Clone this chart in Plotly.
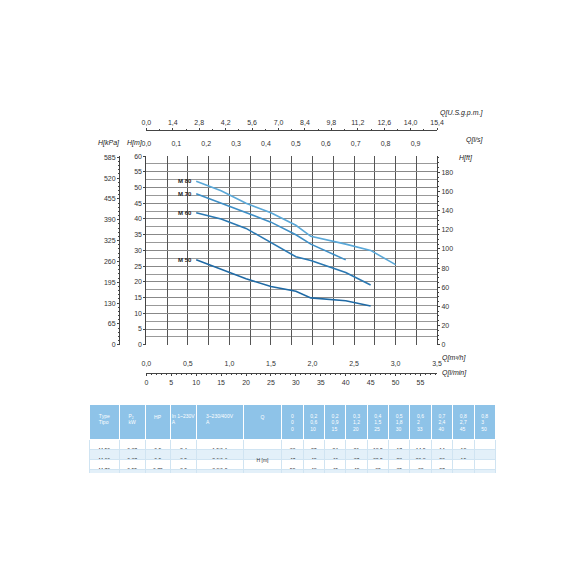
import plotly.graph_objects as go

# pump curves, flow in l/min, head in m
q_lmin = [10, 15, 20, 25, 30, 33, 40, 45, 50]
h_m50 = [27, 24, 21, 18.5, 17, 14.9, 14, 12.3]
h_m60 = [42, 40, 37, 32.5, 28, 26.8, 23, 19]
h_m70 = [48, 45, 42, 39, 35, 32, 27]
h_m80 = [52, 49, 45, 42, 38, 34.5, 32, 30, 25.5]
curves = [("M 80", h_m80, "#5aa8d8"), ("M 70", h_m70, "#3f8fc6"),
          ("M 60", h_m60, "#2a78b2"), ("M 50", h_m50, "#1f6aa5")]

# table data
types = ["M 50", "M 60", "M 70", "M 80"]
kw = ["0,37", "0,37", "0,55", "0,75"]
hp = ["0,5", "0,5", "0,75", "1"]
amp1 = ["2,4", "3,5", "3,9", "5,7"]
amp3 = ["1,9/1,1", "2,6/1,6", "3,3/1,9", "4,7/2,7"]
q_ls = ["0", "0,2", "0,2", "0,3", "0,4", "0,5", "0,6", "0,7", "0,8", "0,8"]
q_m3h = ["0", "0,6", "0,9", "1,2", "1,5", "1,8", "2", "2,4", "2,7", "3"]
q_lm = ["0", "10", "15", "20", "25", "30", "33", "40", "45", "50"]
tab_h = [
    ["33", "27", "24", "21", "18,5", "17", "14,9", "14", "12", ""],
    ["47", "42", "40", "37", "32,5", "28", "26,8", "23", "19", ""],
    ["52", "48", "45", "42", "39", "35", "32", "27", "", ""],
    ["55", "52", "49", "45", "42", "38", "34,5", "32", "30", "25"],
]

gpm_ticks = ["0,0", "1,4", "2,8", "4,2", "5,6", "7,0", "8,4", "9,8", "11,2", "12,6", "14,0", "15,4"]
ls_ticks = ["0,0", "0,1", "0,2", "0,3", "0,4", "0,5", "0,6", "0,7", "0,8", "0,9"]
m3h_ticks = ["0,0", "0,5", "1,0", "1,5", "2,0", "2,5", "3,0", "3,5"]

X0, X1, Y0, Y1 = 0.239, 0.76, 0.409, 0.744
XD, YD = [X0, X1], [Y0, Y1]
font = dict(family="Liberation Sans", size=7, color="#333")

fig = go.Figure()
for name, h, col in curves:
    fig.add_trace(go.Scatter(x=q_lmin[:len(h)], y=h, mode="lines", name=name,
                             line=dict(color=col, width=1.6), showlegend=False))
    fig.add_annotation(x=q_lmin[0], y=h[0], xref="x", yref="y", text="<b>" + name + "</b>",
                       showarrow=False, xanchor="right", xshift=-2, font=dict(size=6, color="#222"))

ax = dict(showline=True, linecolor="#444", ticks="outside", ticklen=2, tickfont=font,
          zeroline=False, showgrid=False)
fig.update_layout(
    width=570, height=570, margin=dict(l=0, r=0, t=0, b=0),
    plot_bgcolor="white", paper_bgcolor="white", font=font,
    xaxis=dict(domain=XD, range=[0, 58.333], anchor="y", tick0=0, dtick=25 / 6,
               showticklabels=False, ticks="", showgrid=True, gridcolor="#555", gridwidth=0.6,
               zeroline=False, showline=False),
    yaxis=dict(domain=YD, range=[0, 60], dtick=5, anchor="x", showgrid=True,
               gridcolor="#888", gridwidth=0.6, zeroline=False, showline=True, linecolor="#444",
               ticks="outside", ticklen=2, tickfont=font,
               minor=dict(dtick=2.5, showgrid=True, gridcolor="#999", gridwidth=0.5)),
    xaxis2=dict(ax, domain=XD, overlaying="x", range=[0, 58.333], anchor="free", position=0.358,
                dtick=5, side="bottom", minor=dict(dtick=1, ticks="outside", ticklen=1)),
    xaxis3=dict(ax, domain=XD, overlaying="x", range=[0, 3.5], anchor="free", position=0.385,
                tickvals=[i * 0.5 for i in range(8)], ticktext=m3h_ticks, side="bottom",
                showline=False, ticks=""),
    xaxis4=dict(ax, domain=XD, overlaying="x", range=[0, 0.9722], anchor="free", position=0.76,
                tickvals=[i * 0.1 for i in range(10)], ticktext=ls_ticks, side="top",
                showline=False, ticks=""),
    xaxis5=dict(ax, domain=XD, overlaying="x", range=[0, 15.4], anchor="free", position=0.79,
                tickvals=[i * 1.4 for i in range(12)], ticktext=gpm_ticks, side="top",
                minor=dict(dtick=0.7, ticks="outside", ticklen=1)),
    yaxis2=dict(ax, domain=YD, overlaying="y", range=[0, 588.4], anchor="free", position=0.19,
                tickvals=[i * 65 for i in range(10)], side="left",
                minor=dict(dtick=13, ticks="outside", ticklen=1)),
    yaxis3=dict(ax, domain=YD, overlaying="y", range=[0, 196.85], anchor="free", position=X1,
                side="right", dtick=20, minor=dict(dtick=5, ticks="outside", ticklen=1)),
)
# invisible traces so overlay axes render
for xa, ya in [("x2", "y"), ("x3", "y"), ("x4", "y"), ("x5", "y"), ("x", "y2"), ("x", "y3")]:
    fig.add_trace(go.Scatter(x=[None], y=[None], xaxis=xa, yaxis=ya, showlegend=False,
                             hoverinfo="skip"))

lab = dict(font=dict(family="Liberation Sans", size=7, color="#222"), showarrow=False,
           xref="paper", yref="paper")
for txt, x, y, xa in [("<i>Q[U.S.g.p.m.]</i>", 0.845, 0.82, "right"),
                      ("<i>Q[l/s]</i>", 0.845, 0.773, "right"),
                      ("<i>H[kPa]</i>", 0.148, 0.768, "left"),
                      ("<i>H[m]</i>", 0.2, 0.768, "left"),
                      ("<i>H[ft]</i>", 0.795, 0.74, "left"),
                      ("<i>Q[m³/h]</i>", 0.765, 0.385, "left"),
                      ("<i>Q[l/min]</i>", 0.765, 0.358, "left")]:
    fig.add_annotation(text=txt, x=x, y=y, xanchor=xa, yanchor="middle", **lab)

hdr_fill = "#8ec3e8"
header = ["Type<br>Tipo", "P₂<br>kW", "<br>HP", "In 1~230V<br>A", "3~230/400V<br>A", "<br>Q"] + \
         [f"{a}<br>{b}<br>{c}" for a, b, c in zip(q_ls, q_m3h, q_lm)]
cols = [types, kw, hp, amp1, amp3, ["", "H [m]", "", ""]] + [[r[i] for r in tab_h] for i in range(10)]
fig.add_trace(go.Table(
    domain=dict(x=[0.137, 0.865], y=[0.18, 0.302]),
    columnwidth=[7, 6, 6, 6, 11, 9] + [5] * 10,
    header=dict(values=header, fill_color=hdr_fill, line_color="white", height=20,
                font=dict(family="Liberation Sans", size=5, color="white"), align="center"),
    cells=dict(values=cols, fill_color=[["white", "#e3f0f9", "white", "#e3f0f9"]],
               line_color="#d0e4f2", height=10, align="center",
               font=dict(family="Liberation Sans", size=5, color="#333")),
))

fig.write_html("out.html")
